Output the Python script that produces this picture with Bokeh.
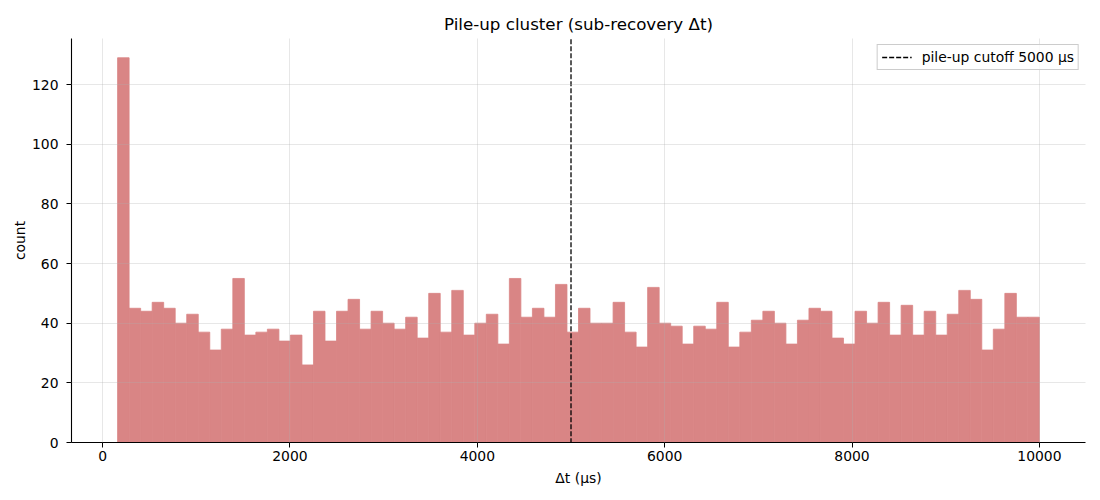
from bokeh.plotting import figure
from bokeh.models import Range1d, FixedTicker, Legend, LegendItem
from bokeh.embed import file_html
from bokeh.resources import INLINE

# ---- data ----
bin_lo = 160.0
bin_hi = 10000.0
counts = [129, 45, 44, 47, 45, 40, 43, 37, 31, 38,
          55, 36, 37, 38, 34, 36, 26, 44, 34, 44,
          48, 38, 44, 40, 38, 42, 35, 50, 37, 51,
          36, 40, 43, 33, 55, 42, 45, 42, 53, 37,
          45, 40, 40, 47, 37, 32, 52, 40, 39, 33,
          39, 38, 47, 32, 37, 41, 44, 40, 33, 41,
          45, 44, 35, 33, 44, 40, 47, 36, 46, 36,
          44, 36, 43, 51, 48, 31, 38, 50, 42, 42]
cutoff = 5000
x_ticks = [0, 2000, 4000, 6000, 8000, 10000]
y_ticks = [0, 20, 40, 60, 80, 100, 120]
title_text = "Pile-up cluster (sub-recovery \u0394t)"
x_label = "\u0394t (\u03bcs)"
y_label = "count"
legend_label = "pile-up cutoff 5000 \u03bcs"

n = len(counts)
w = (bin_hi - bin_lo) / n
lefts = [bin_lo + i * w for i in range(n)]
rights = [bin_lo + (i + 1) * w for i in range(n)]

span_x = bin_hi - bin_lo
x_range = Range1d(bin_lo - 0.05 * span_x, bin_hi + 0.05 * span_x)
y_range = Range1d(0, max(counts) * 1.05)

FONT = "DejaVu Sans"
BAR = "#d98585"

p = figure(output_backend="svg", toolbar_location=None,
           frame_width=1014, frame_height=404,
           min_border_left=71, min_border_right=15,
           min_border_top=38, min_border_bottom=46,
           x_range=x_range, y_range=y_range,
           title=title_text)
p.outline_line_color = None
p.background_fill_color = "white"

p.title.align = "center"
p.title.text_font = FONT
p.title.text_font_size = "16.7px"
p.title.text_font_style = "normal"
p.title.text_color = "black"
p.title.standoff = 9

p.quad(left=lefts, right=rights, top=counts, bottom=0,
       fill_color=BAR, fill_alpha=1.0, line_color=BAR, line_width=0.8)

r_line = p.line(x=[cutoff, cutoff], y=[-1000, 1000], line_color="black",
                line_width=1.3, line_dash="5 2")

for ax in (p.xaxis[0], p.yaxis[0]):
    ax.axis_line_color = "black"
    ax.axis_line_width = 1.1
    ax.major_tick_line_color = "black"
    ax.major_tick_out = 5
    ax.major_tick_in = 0
    ax.minor_tick_line_color = None
    ax.major_label_text_font = FONT
    ax.major_label_text_font_size = "13.9px"
    ax.major_label_text_color = "black"
    ax.axis_label_text_font = FONT
    ax.axis_label_text_font_size = "13.9px"
    ax.axis_label_text_font_style = "normal"
    ax.axis_label_text_color = "black"

p.xaxis[0].ticker = FixedTicker(ticks=x_ticks)
p.yaxis[0].ticker = FixedTicker(ticks=y_ticks)
p.xaxis[0].axis_label = x_label
p.yaxis[0].axis_label = y_label
p.xaxis[0].major_label_standoff = 3
p.xaxis[0].axis_label_standoff = 6
p.yaxis[0].major_label_standoff = 8
p.yaxis[0].axis_label_standoff = 1

for g in (p.xgrid[0], p.ygrid[0]):
    g.grid_line_color = "#b0b0b0"
    g.grid_line_alpha = 0.3
    g.level = "guide"
p.xgrid[0].ticker = FixedTicker(ticks=x_ticks)
p.ygrid[0].ticker = FixedTicker(ticks=y_ticks)

legend = Legend(items=[LegendItem(label=legend_label, renderers=[r_line])],
                location="top_right")
legend.margin = 6
legend.padding = 4
legend.spacing = 0
legend.label_text_font = FONT
legend.label_text_font_size = "13.9px"
legend.label_text_color = "black"
legend.border_line_color = "#cccccc"
legend.border_line_width = 1
legend.border_line_alpha = 1.0
legend.background_fill_alpha = 0.8
legend.glyph_width = 30
legend.label_standoff = 10
legend.label_height = 14
legend.glyph_height = 14
p.add_layout(legend)

open("out.html", "w").write(file_html(p, INLINE))
